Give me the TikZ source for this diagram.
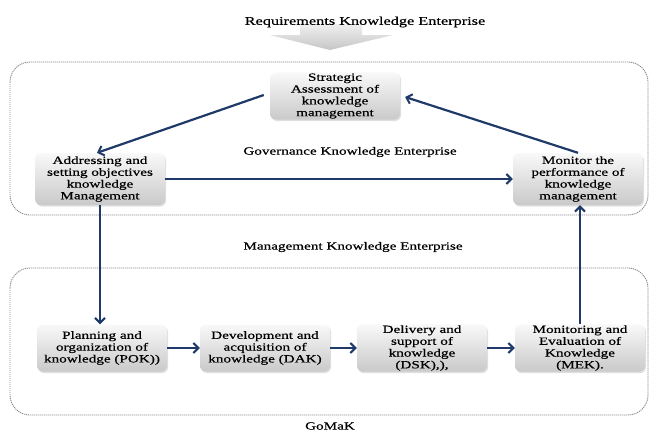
\documentclass[tikz,border=0pt]{standalone}
\usepackage{fontspec}
\setmainfont{Liberation Serif}[FakeStretch=1.38,FakeBold=0.6]
\usetikzlibrary{arrows.meta,shadows}
\definecolor{navy}{RGB}{31,58,104}
\tikzset{
  kbox/.style={rounded corners=6pt, top color=gray!5, bottom color=gray!42,
    draw=none, minimum width=130pt, minimum height=47pt, align=center,
    inner sep=1pt, font=\fontsize{11}{11.8}\selectfont,
    drop shadow={opacity=0.25, shadow xshift=1pt, shadow yshift=-1.5pt}},
  tallbox/.style={kbox, minimum height=52pt},
  link/.style={draw=navy, line width=2.2pt, -{Straight Barb[length=5pt,width=10pt,line width=2pt]}},
  region/.style={draw=gray!90, line width=0.9pt, dash pattern=on 1.2pt off 0.8pt, rounded corners=20pt},
  lbl/.style={font=\fontsize{11}{12}\selectfont, inner sep=0pt}
}
\begin{document}
\begin{tikzpicture}[x=1pt,y=-1pt]
\useasboundingbox (0,0) rectangle (651,432);
% big arrow
\shade[top color=gray!12, bottom color=gray!45]
  (300,24) -- (362,24) -- (362,35) -- (393,35) -- (330,50) -- (270,35) -- (300,35) -- cycle;
\node[lbl, font=\fontsize{11.8}{12}\selectfont] (title) at (365,22) {Requirements Knowledge Enterprise};
% regions
\draw[region] (10,62) rectangle (648,215);
\draw[region] (10,268) rectangle (648,415);
\node[lbl] (gov) at (350,152) {Governance Knowledge Enterprise};
\node[lbl] (man) at (353,247) {Management Knowledge Enterprise};
\node[lbl] (gomak) at (330,426) {GoMaK};
% boxes
\node[kbox] (sa) at (335,96) {Strategic\\Assessment of\\knowledge\\management};
\node[tallbox] (ad) at (100,179) {Addressing and\\setting objectives\\knowledge\\Management};
\node[tallbox] (mp) at (578,179) {Monitor the\\performance of\\knowledge\\management};
\node[kbox] (pok) at (102,348) {Planning and\\organization of\\knowledge (POK))};
\node[kbox] (dak) at (265,348) {Development and\\acquisition of\\knowledge (DAK)};
\node[kbox] (dsk) at (422,348) {Delivery and\\support of\\knowledge\\(DSK),),};
\node[kbox] (mek) at (580,348) {Monitoring and\\Evaluation of\\Knowledge\\(MEK).};
% connectors
\draw[link] (sa.west) ++(-6,-1) coordinate (s1) (s1) -- (ad.north -| 97,0);
\draw[link] (mp.north) -- ([xshift=5pt,yshift=-1pt]sa.east);
\draw[link] (ad.east) -- (mp.west);
\draw[link] (ad.south) -- (pok.north -| ad.south);
\draw[link] (pok.east) -- (dak.west);
\draw[link] (dak.east) -- (dsk.west);
\draw[link] (dsk.east) -- (mek.west);
\draw[link] (mek.north) -- (mp.south -| mek.north);
\end{tikzpicture}
\end{document}
